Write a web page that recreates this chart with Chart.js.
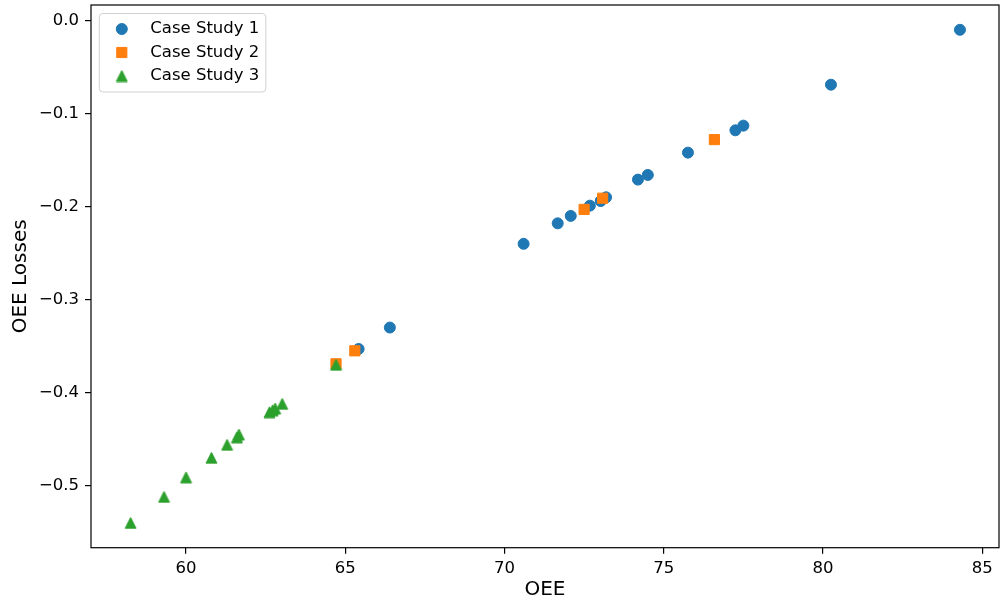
<!DOCTYPE html>
<html>
<head>
<meta charset="utf-8">
<title>OEE vs OEE Losses</title>
<script src="https://cdn.jsdelivr.net/npm/chart.js@4.4.0/dist/chart.umd.min.js"></script>
<style>
  html, body { margin: 0; padding: 0; background: #fff; overflow: hidden; }
  #wrap { width: 1000px; height: 602px; }
</style>
</head>
<body>
<div id="wrap"><canvas id="oeeChart" width="1000" height="602"></canvas></div>
<script>
// ----------------------------------------------------
// DATA
// ----------------------------------------------------
const seriesNames = ["Case Study 1", "Case Study 2", "Case Study 3"];

const oee1 = [84.3, 80.25, 77.5, 77.25, 75.76, 74.5, 74.19, 73.19, 73.02, 72.68, 72.08, 71.67, 70.6, 66.4, 65.42];
const loss1 = [-0.010, -0.069, -0.113, -0.118, -0.142, -0.166, -0.171, -0.190, -0.194, -0.199, -0.210, -0.218, -0.240, -0.330, -0.353];

const oee2 = [76.59, 73.08, 72.5, 65.3, 64.71];
const loss2 = [-0.128, -0.191, -0.203, -0.355, -0.369];

const oee3 = [64.71, 63.02, 62.8, 62.72, 62.62, 61.66, 61.6, 61.29, 60.8, 60.0, 59.31, 58.26];
const loss3 = [-0.370, -0.412, -0.417, -0.419, -0.421, -0.445, -0.448, -0.456, -0.470, -0.491, -0.512, -0.540];

const xTickStep = 5;
const yTickStep = 0.1;

// ----------------------------------------------------
// HELPERS
// ----------------------------------------------------
const FONT = "'DejaVu Sans', 'Liberation Sans', sans-serif";
const BLUE = "#1f77b4";
const ORANGE = "#ff7f0e";
const GREEN = "#2ca02c";

function toPoints(xs, ys) {
  return xs.map((x, i) => ({ x: x, y: ys[i] }));
}

// matplotlib-like "^" marker (square bounding box, centred)
function makeTriangle(color, size) {
  const c = document.createElement("canvas");
  c.width = size;
  c.height = size;
  const g = c.getContext("2d");
  g.fillStyle = color;
  g.strokeStyle = color;
  g.lineWidth = 1;
  g.beginPath();
  g.moveTo(size / 2, 1);
  g.lineTo(size - 1, size - 1);
  g.lineTo(1, size - 1);
  g.closePath();
  g.fill();
  g.stroke();
  return c;
}

const triangleImg = makeTriangle(GREEN, 13);

// full box around the axes, like matplotlib spines
const framePlugin = {
  id: "frame",
  afterDatasetsDraw(chart) {
    const { ctx, chartArea } = chart;
    ctx.save();
    ctx.strokeStyle = "#000";
    ctx.lineWidth = 1.2;
    ctx.strokeRect(chartArea.left, chartArea.top, chartArea.right - chartArea.left, chartArea.bottom - chartArea.top);
    ctx.restore();
  }
};

// legend box in the upper-left corner of the plot area
const insideLegend = {
  id: "insideLegend",
  afterDraw(chart) {
    const ctx = chart.ctx;
    const area = chart.chartArea;
    const bx = area.left + 8.3, by = area.top + 8.5, bw = 166.5, bh = 78.5;
    ctx.save();
    ctx.beginPath();
    ctx.roundRect(bx, by, bw, bh, 3.5);
    ctx.fillStyle = "rgba(255,255,255,0.8)";
    ctx.fill();
    ctx.strokeStyle = "#d0d0d0";
    ctx.lineWidth = 1;
    ctx.stroke();

    chart.data.datasets.forEach((ds, i) => {
      const mx = bx + 22.5;
      const my = by + 15.5 + i * 23.5;
      if (ds.pointStyle instanceof HTMLCanvasElement) {
        ctx.drawImage(ds.pointStyle, mx - ds.pointStyle.width / 2, my - ds.pointStyle.height / 2);
      } else {
        ctx.fillStyle = ds.backgroundColor;
        ctx.strokeStyle = ds.borderColor;
        ctx.lineWidth = ds.borderWidth;
        Chart.helpers.drawPoint(ctx, { pointStyle: ds.pointStyle, radius: ds.pointRadius, borderWidth: ds.borderWidth, rotation: 0 }, mx, my);
      }
      ctx.fillStyle = "#000";
      ctx.font = "16.5px " + FONT;
      ctx.textAlign = "left";
      ctx.textBaseline = "middle";
      ctx.fillText(ds.label, bx + 51, my);
    });
    ctx.restore();
  }
};

// ----------------------------------------------------
// CHART
// ----------------------------------------------------
const ctx = document.getElementById("oeeChart").getContext("2d");

const oeeChart = new Chart(ctx, {
  type: "scatter",
  data: {
    datasets: [
      {
        label: seriesNames[0],
        data: toPoints(oee1, loss1),
        pointStyle: "circle",
        pointRadius: 5.5,
        borderWidth: 1,
        backgroundColor: BLUE,
        borderColor: BLUE,
        order: 3
      },
      {
        label: seriesNames[1],
        data: toPoints(oee2, loss2),
        pointStyle: "rect",
        pointRadius: 7.2,
        borderWidth: 1,
        backgroundColor: ORANGE,
        borderColor: ORANGE,
        order: 2
      },
      {
        label: seriesNames[2],
        data: toPoints(oee3, loss3),
        pointStyle: triangleImg,
        pointRadius: 6.5,
        borderWidth: 0,
        backgroundColor: GREEN,
        borderColor: GREEN,
        order: 1
      }
    ]
  },
  options: {
    responsive: false,
    animation: false,
    events: [],
    layout: {
      autoPadding: false,
      padding: { top: 5, right: 1, left: 0, bottom: 0 }
    },
    plugins: {
      legend: { display: false },
      tooltip: { enabled: false }
    },
    scales: {
      x: {
        type: "linear",
        min: 57.017,
        max: 85.526,
        afterFit: s => {
          s.height = 54.3;
          s.paddingLeft = 0;
          s.paddingRight = 0;
        },
        grid: {
          display: true,
          drawOnChartArea: false,
          drawTicks: true,
          tickLength: 6,
          color: "#000",
          lineWidth: 1.2
        },
        border: { display: false },
        ticks: {
          stepSize: xTickStep,
          includeBounds: false,
          autoSkip: false,
          maxRotation: 0,
          padding: 5,
          color: "#000",
          font: { family: FONT, size: 16.5 },
          callback: value => String(Math.round(value))
        },
        title: {
          display: true,
          text: "OEE",
          color: "#000",
          font: { family: FONT, size: 20 },
          padding: { top: 0, bottom: 0 }
        }
      },
      y: {
        type: "linear",
        min: -0.5666,
        max: 0.01666,
        afterFit: s => {
          s.width = 91;
          s.paddingTop = 0;
          s.paddingBottom = 0;
        },
        grid: {
          display: true,
          drawOnChartArea: false,
          drawTicks: true,
          tickLength: 6,
          color: "#000",
          lineWidth: 1.2
        },
        border: { display: false },
        ticks: {
          stepSize: yTickStep,
          includeBounds: false,
          autoSkip: false,
          padding: 6,
          color: "#000",
          font: { family: FONT, size: 16.5 },
          callback: value => {
            const v = Math.round(value * 10) / 10;
            return (v < 0 ? "\u2212" : "") + Math.abs(v).toFixed(1);
          }
        },
        title: {
          display: true,
          text: "OEE Losses",
          color: "#000",
          font: { family: FONT, size: 20 },
          padding: { top: 8.5, bottom: 0 }
        }
      }
    }
  },
  plugins: [framePlugin, insideLegend]
});
</script>
</body>
</html>
